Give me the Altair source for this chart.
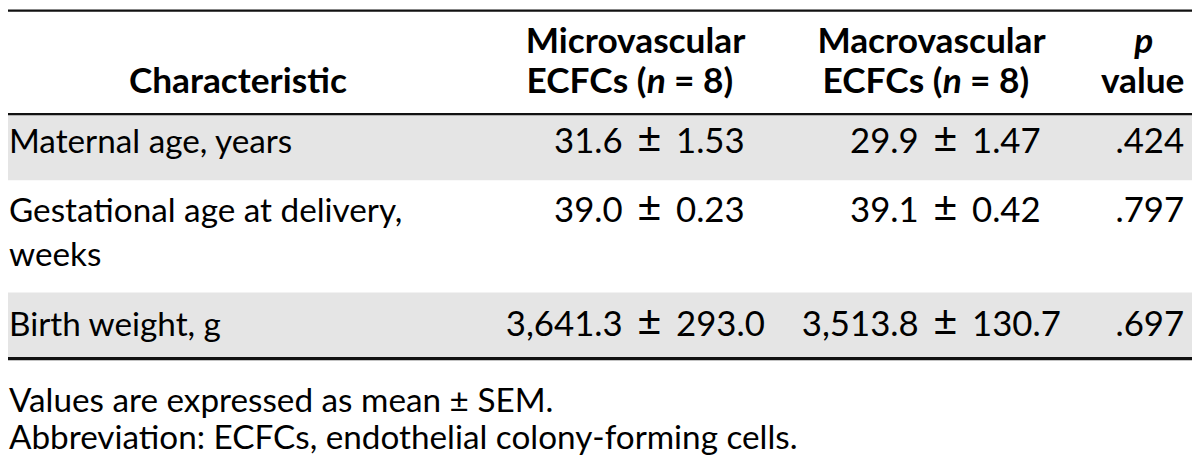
import altair as alt
import pandas as pd

characteristics = ["Maternal age, years", "Gestational age at delivery,\nweeks", "Birth weight, g"]
micro_mean = ["31.6", "39.0", "3,641.3"]
micro_sem = ["1.53", "0.23", "293.0"]
macro_mean = ["29.9", "39.1", "3,513.8"]
macro_sem = ["1.47", "0.42", "130.7"]
p_values = [".424", ".797", ".697"]
pm_sign = "\u00b1"
header_first = "Characteristic"
header_groups = ["Microvascular", "Macrovascular"]
header_group_line2 = ["ECFCs (", "n", "= 8)"]
header_p = ["p", "value"]
footnotes = ["Values are expressed as mean \u00b1 SEM.",
             "Abbreviation: ECFCs, endothelial colony-forming cells."]

# ---------------- layout (reference pixel space) ----------------
REF_W, REF_H = 1200, 461
W, H = 1192, 453           # visible area after the 8px page margin
FONT = "Lato"
BODY = 33.5
NUM = 35
PM = 42
HEAD = 35.5
INK = "#000000"

row_base = [147, 218, 334]
line_h = 44
head_l1, head_l2 = 45, 86
col_first_x = 1
first_center = 233
group_center = [636, 936]
pm_center = [650, 950]
pm_gap_left, pm_gap_right = 27, 27
n_center_off = 21
n_half = 10
p_right = 1192
p_center = 1150
foot_base = [412, 450]

bands = pd.DataFrame({
    "x": [0, 0, 0, 0, 0], "x2": [REF_W] * 5,
    "y": [108, 290, 0, 106, 356], "y2": [175, 356, 2.2, 108.3, 359.3],
    "fill": ["#e5e5e5", "#e5e5e5", "#111111", "#111111", "#111111"],
})

xs = alt.Scale(domain=[0, REF_W], range=[0, W], nice=False, zero=False)
ys = alt.Scale(domain=[REF_H, 0], nice=False, zero=False)


def X(f="x"):
    return alt.X(f + ":Q", scale=xs, axis=None)


def Y(f="y"):
    return alt.Y(f + ":Q", scale=ys, axis=None)


rects = alt.Chart(bands).mark_rect(strokeWidth=0).encode(
    x=X(), x2="x2:Q", y=Y(), y2="y2:Q",
    color=alt.Color("fill:N", scale=None),
)

items = []


def add(x, y, text, align, weight="normal", style="normal", size=BODY):
    items.append(dict(x=x, y=y, text=text, align=align, weight=weight,
                      style=style, size=size))


# header
add(first_center, head_l2, header_first, "center", "bold", size=HEAD)
for gc, name in zip(group_center, header_groups):
    add(gc, head_l1, name, "center", "bold", size=HEAD)
    nc = gc + n_center_off
    add(nc - n_half, head_l2, header_group_line2[0], "right", "bold", size=HEAD)
    add(nc, head_l2, header_group_line2[1], "center", "bold", "italic", size=HEAD)
    add(nc + n_half + 8, head_l2, header_group_line2[2], "left", "bold", size=HEAD)
add(p_center + 1, head_l1, header_p[0], "center", "bold", "italic", size=HEAD)
add(p_center, head_l2, header_p[1], "center", "bold", size=HEAD)

# body
for i, yb in enumerate(row_base):
    add(col_first_x, yb, characteristics[i], "left")
    for pc, means, sems in ((pm_center[0], micro_mean, micro_sem),
                            (pm_center[1], macro_mean, macro_sem)):
        add(pc - pm_gap_left, yb, means[i], "right", size=NUM)
        add(pc, yb, pm_sign, "center", size=PM)
        add(pc + pm_gap_right, yb, sems[i], "left", size=NUM)
    add(p_right, yb, p_values[i], "right", size=NUM)

# footnotes
for yb, t in zip(foot_base, footnotes):
    add(col_first_x, yb, t, "left")

df = pd.DataFrame(items)

layers = [rects]
for (align, weight, style, size), g in df.groupby(["align", "weight", "style", "size"]):
    layers.append(
        alt.Chart(g).mark_text(
            align=align, baseline="alphabetic", font=FONT, fontSize=float(size),
            fontWeight=weight, fontStyle=style, color=INK,
            lineBreak="\n", lineHeight=line_h,
        ).encode(x=X(), y=Y(), text="text:N")
    )

chart = alt.layer(*layers).properties(
    width=W, height=H, padding=0,
    autosize=alt.AutoSizeParams(type="none"),
).configure_view(stroke=None)

chart.save("out.html", embed_options={"renderer": "svg", "actions": False})
